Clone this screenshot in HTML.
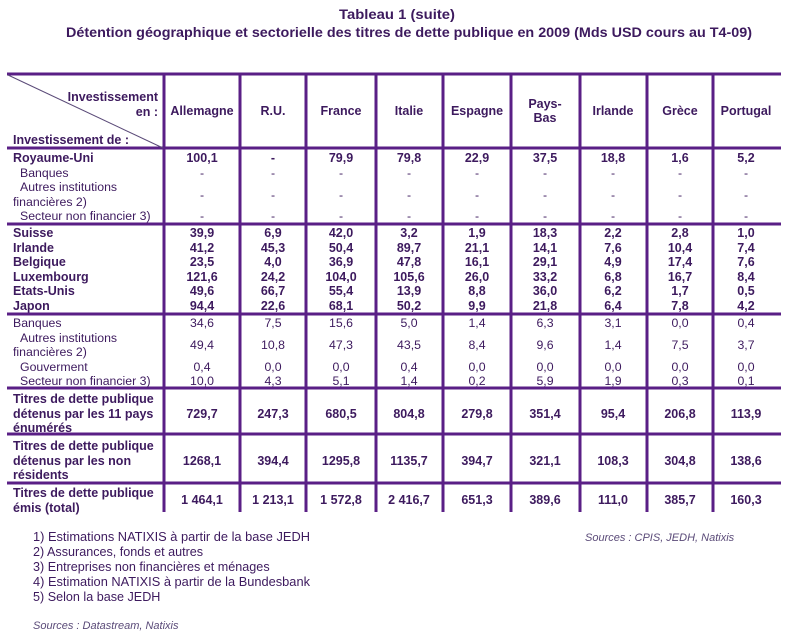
<!DOCTYPE html>
<html><head><meta charset="utf-8"><style>
html,body{margin:0;padding:0;background:#fff;}
svg{display:block;}
text{font-family:"Liberation Sans",Arial,sans-serif;fill:#3d1a5e;}
.b{font-weight:bold;font-size:12.5px;}
.n{font-size:12.3px;}
.f{font-size:12.6px;}
.c{text-anchor:middle;}
.i{font-style:italic;font-size:11px;fill:#5a4a78;}
.t{font-family:"Liberation Sans",Arial,sans-serif;font-weight:bold;font-size:14px;}
</style></head><body>
<svg width="800" height="636" viewBox="0 0 800 636" xmlns="http://www.w3.org/2000/svg">
<text x="397" y="19" class="t c" textLength="116" lengthAdjust="spacingAndGlyphs">Tableau 1 (suite)</text>
<text x="409" y="37" class="t c" textLength="686" lengthAdjust="spacingAndGlyphs">Détention géographique et sectorielle des titres de dette publique en 2009 (Mds USD cours au T4-09)</text>

<g stroke="#5a1f86" stroke-width="3">
<line x1="7" y1="74" x2="781" y2="74"/>
<line x1="7" y1="148" x2="781" y2="148"/>
<line x1="7" y1="224" x2="781" y2="224"/>
<line x1="7" y1="314" x2="781" y2="314"/>
<line x1="7" y1="388" x2="781" y2="388"/>
<line x1="7" y1="434" x2="781" y2="434"/>
<line x1="7" y1="483" x2="781" y2="483"/>
<line x1="164" y1="73" x2="164" y2="512"/>
<line x1="240" y1="73" x2="240" y2="512"/>
<line x1="306" y1="73" x2="306" y2="512"/>
<line x1="376" y1="73" x2="376" y2="512"/>
<line x1="443" y1="73" x2="443" y2="512"/>
<line x1="511" y1="73" x2="511" y2="512"/>
<line x1="580" y1="73" x2="580" y2="512"/>
<line x1="647" y1="73" x2="647" y2="512"/>
<line x1="713" y1="73" x2="713" y2="512"/>
</g>
<line x1="8" y1="75" x2="163" y2="148" stroke="#5a4a78" stroke-width="1"/>

<text x="158" y="101" class="b" text-anchor="end">Investissement</text>
<text x="158" y="116" class="b" text-anchor="end">en :</text>
<text x="13" y="144" class="b">Investissement de :</text>

<text x="202" y="115" class="b c">Allemagne</text>
<text x="273" y="115" class="b c">R.U.</text>
<text x="341" y="115" class="b c">France</text>
<text x="409" y="115" class="b c">Italie</text>
<text x="477" y="115" class="b c">Espagne</text>
<text x="545" y="108" class="b c">Pays-</text>
<text x="545" y="122" class="b c">Bas</text>
<text x="613" y="115" class="b c">Irlande</text>
<text x="680" y="115" class="b c">Grèce</text>
<text x="746" y="115" class="b c">Portugal</text>

<text x="13" y="162" class="b">Royaume-Uni</text>
<text x="20" y="177" class="n">Banques</text>
<text x="20" y="191" class="n">Autres institutions</text>
<text x="13" y="206" class="n">financières 2)</text>
<text x="20" y="220" class="n">Secteur non financier 3)</text>
<text x="13" y="237" class="b">Suisse</text>
<text x="13" y="252" class="b">Irlande</text>
<text x="13" y="266" class="b">Belgique</text>
<text x="13" y="281" class="b">Luxembourg</text>
<text x="13" y="295" class="b">Etats-Unis</text>
<text x="13" y="310" class="b">Japon</text>
<text x="13" y="327" class="n">Banques</text>
<text x="20" y="342" class="n">Autres institutions</text>
<text x="13" y="356" class="n">financières 2)</text>
<text x="20" y="371" class="n">Gouverment</text>
<text x="20" y="385" class="n">Secteur non financier 3)</text>
<text x="13" y="403" class="b">Titres de dette publique</text>
<text x="13" y="418" class="b">détenus par les 11 pays</text>
<text x="13" y="432" class="b">énumérés</text>
<text x="13" y="450" class="b">Titres de dette publique</text>
<text x="13" y="465" class="b">détenus par les non</text>
<text x="13" y="479" class="b">résidents</text>
<text x="13" y="497" class="b">Titres de dette publique</text>
<text x="13" y="512" class="b">émis (total)</text>

<text x="202" y="162" class="b c">100,1</text><text x="273" y="162" class="b c">-</text><text x="341" y="162" class="b c">79,9</text><text x="409" y="162" class="b c">79,8</text><text x="477" y="162" class="b c">22,9</text><text x="545" y="162" class="b c">37,5</text><text x="613" y="162" class="b c">18,8</text><text x="680" y="162" class="b c">1,6</text><text x="746" y="162" class="b c">5,2</text>

<text x="202" y="177" class="n c">-</text><text x="273" y="177" class="n c">-</text><text x="341" y="177" class="n c">-</text><text x="409" y="177" class="n c">-</text><text x="477" y="177" class="n c">-</text><text x="545" y="177" class="n c">-</text><text x="613" y="177" class="n c">-</text><text x="680" y="177" class="n c">-</text><text x="746" y="177" class="n c">-</text>
<text x="202" y="199" class="n c">-</text><text x="273" y="199" class="n c">-</text><text x="341" y="199" class="n c">-</text><text x="409" y="199" class="n c">-</text><text x="477" y="199" class="n c">-</text><text x="545" y="199" class="n c">-</text><text x="613" y="199" class="n c">-</text><text x="680" y="199" class="n c">-</text><text x="746" y="199" class="n c">-</text>
<text x="202" y="220" class="n c">-</text><text x="273" y="220" class="n c">-</text><text x="341" y="220" class="n c">-</text><text x="409" y="220" class="n c">-</text><text x="477" y="220" class="n c">-</text><text x="545" y="220" class="n c">-</text><text x="613" y="220" class="n c">-</text><text x="680" y="220" class="n c">-</text><text x="746" y="220" class="n c">-</text>

<text x="202" y="237" class="b c">39,9</text><text x="273" y="237" class="b c">6,9</text><text x="341" y="237" class="b c">42,0</text><text x="409" y="237" class="b c">3,2</text><text x="477" y="237" class="b c">1,9</text><text x="545" y="237" class="b c">18,3</text><text x="613" y="237" class="b c">2,2</text><text x="680" y="237" class="b c">2,8</text><text x="746" y="237" class="b c">1,0</text>
<text x="202" y="252" class="b c">41,2</text><text x="273" y="252" class="b c">45,3</text><text x="341" y="252" class="b c">50,4</text><text x="409" y="252" class="b c">89,7</text><text x="477" y="252" class="b c">21,1</text><text x="545" y="252" class="b c">14,1</text><text x="613" y="252" class="b c">7,6</text><text x="680" y="252" class="b c">10,4</text><text x="746" y="252" class="b c">7,4</text>
<text x="202" y="266" class="b c">23,5</text><text x="273" y="266" class="b c">4,0</text><text x="341" y="266" class="b c">36,9</text><text x="409" y="266" class="b c">47,8</text><text x="477" y="266" class="b c">16,1</text><text x="545" y="266" class="b c">29,1</text><text x="613" y="266" class="b c">4,9</text><text x="680" y="266" class="b c">17,4</text><text x="746" y="266" class="b c">7,6</text>
<text x="202" y="281" class="b c">121,6</text><text x="273" y="281" class="b c">24,2</text><text x="341" y="281" class="b c">104,0</text><text x="409" y="281" class="b c">105,6</text><text x="477" y="281" class="b c">26,0</text><text x="545" y="281" class="b c">33,2</text><text x="613" y="281" class="b c">6,8</text><text x="680" y="281" class="b c">16,7</text><text x="746" y="281" class="b c">8,4</text>
<text x="202" y="295" class="b c">49,6</text><text x="273" y="295" class="b c">66,7</text><text x="341" y="295" class="b c">55,4</text><text x="409" y="295" class="b c">13,9</text><text x="477" y="295" class="b c">8,8</text><text x="545" y="295" class="b c">36,0</text><text x="613" y="295" class="b c">6,2</text><text x="680" y="295" class="b c">1,7</text><text x="746" y="295" class="b c">0,5</text>
<text x="202" y="310" class="b c">94,4</text><text x="273" y="310" class="b c">22,6</text><text x="341" y="310" class="b c">68,1</text><text x="409" y="310" class="b c">50,2</text><text x="477" y="310" class="b c">9,9</text><text x="545" y="310" class="b c">21,8</text><text x="613" y="310" class="b c">6,4</text><text x="680" y="310" class="b c">7,8</text><text x="746" y="310" class="b c">4,2</text>

<text x="202" y="327" class="n c">34,6</text><text x="273" y="327" class="n c">7,5</text><text x="341" y="327" class="n c">15,6</text><text x="409" y="327" class="n c">5,0</text><text x="477" y="327" class="n c">1,4</text><text x="545" y="327" class="n c">6,3</text><text x="613" y="327" class="n c">3,1</text><text x="680" y="327" class="n c">0,0</text><text x="746" y="327" class="n c">0,4</text>
<text x="202" y="349" class="n c">49,4</text><text x="273" y="349" class="n c">10,8</text><text x="341" y="349" class="n c">47,3</text><text x="409" y="349" class="n c">43,5</text><text x="477" y="349" class="n c">8,4</text><text x="545" y="349" class="n c">9,6</text><text x="613" y="349" class="n c">1,4</text><text x="680" y="349" class="n c">7,5</text><text x="746" y="349" class="n c">3,7</text>
<text x="202" y="371" class="n c">0,4</text><text x="273" y="371" class="n c">0,0</text><text x="341" y="371" class="n c">0,0</text><text x="409" y="371" class="n c">0,4</text><text x="477" y="371" class="n c">0,0</text><text x="545" y="371" class="n c">0,0</text><text x="613" y="371" class="n c">0,0</text><text x="680" y="371" class="n c">0,0</text><text x="746" y="371" class="n c">0,0</text>
<text x="202" y="385" class="n c">10,0</text><text x="273" y="385" class="n c">4,3</text><text x="341" y="385" class="n c">5,1</text><text x="409" y="385" class="n c">1,4</text><text x="477" y="385" class="n c">0,2</text><text x="545" y="385" class="n c">5,9</text><text x="613" y="385" class="n c">1,9</text><text x="680" y="385" class="n c">0,3</text><text x="746" y="385" class="n c">0,1</text>

<text x="202" y="418" class="b c">729,7</text><text x="273" y="418" class="b c">247,3</text><text x="341" y="418" class="b c">680,5</text><text x="409" y="418" class="b c">804,8</text><text x="477" y="418" class="b c">279,8</text><text x="545" y="418" class="b c">351,4</text><text x="613" y="418" class="b c">95,4</text><text x="680" y="418" class="b c">206,8</text><text x="746" y="418" class="b c">113,9</text>
<text x="202" y="465" class="b c">1268,1</text><text x="273" y="465" class="b c">394,4</text><text x="341" y="465" class="b c">1295,8</text><text x="409" y="465" class="b c">1135,7</text><text x="477" y="465" class="b c">394,7</text><text x="545" y="465" class="b c">321,1</text><text x="613" y="465" class="b c">108,3</text><text x="680" y="465" class="b c">304,8</text><text x="746" y="465" class="b c">138,6</text>
<text x="202" y="504" class="b c">1 464,1</text><text x="273" y="504" class="b c">1 213,1</text><text x="341" y="504" class="b c">1 572,8</text><text x="409" y="504" class="b c">2 416,7</text><text x="477" y="504" class="b c">651,3</text><text x="545" y="504" class="b c">389,6</text><text x="613" y="504" class="b c">111,0</text><text x="680" y="504" class="b c">385,7</text><text x="746" y="504" class="b c">160,3</text>

<text x="33" y="541" class="f" textLength="277" lengthAdjust="spacingAndGlyphs">1) Estimations NATIXIS à partir de la base JEDH</text>
<text x="33" y="556" class="f">2) Assurances, fonds et autres</text>
<text x="33" y="571" class="f">3) Entreprises non financières et ménages</text>
<text x="33" y="586" class="f" textLength="277" lengthAdjust="spacingAndGlyphs">4) Estimation NATIXIS à partir de la Bundesbank</text>
<text x="33" y="601" class="f">5) Selon la base JEDH</text>
<text x="585" y="541" class="i">Sources : CPIS, JEDH, Natixis</text>
<text x="33" y="629" class="i">Sources : Datastream, Natixis</text>
</svg>
</body></html>
